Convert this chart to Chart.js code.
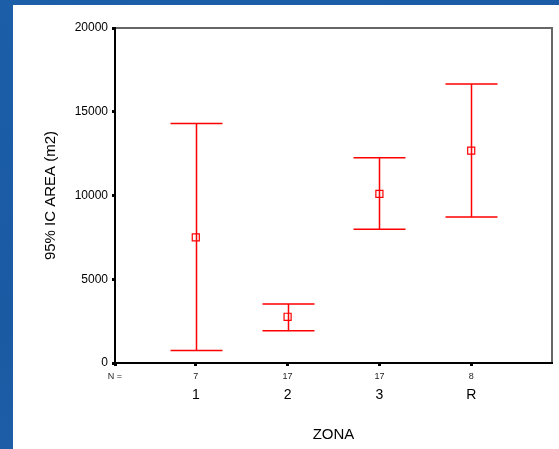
<!DOCTYPE html>
<html>
<head>
<meta charset="utf-8">
<script src="https://cdn.jsdelivr.net/npm/chart.js@4.4.1/dist/chart.umd.min.js"></script>
<style>
  html, body { margin: 0; padding: 0; }
  body {
    width: 559px; height: 449px; overflow: hidden; position: relative;
    background: linear-gradient(160deg, #1d5ea9 0%, #1a5aa3 50%, #2263ad 100%);
  }
  #panel { position: absolute; left: 13px; top: 5px; width: 546px; height: 444px; background: #fff; }
  canvas { display: block; }
</style>
</head>
<body>
<div id="panel"><canvas id="chart" width="546" height="444"></canvas></div>
<script>
// data (95% CI of area by zone)
const zones = ['1', '2', '3', 'R'];
const counts = [7, 17, 17, 8];
const means = [7500, 2760, 10100, 12680];
const lower = [740, 1930, 7980, 8720];
const upper = [14300, 3520, 12260, 16660];
const yTicks = [0, 5000, 10000, 15000, 20000];

const xMin = 0.12, xMax = 4.88;
const red = '#ff0000';
const font = "Arial, 'Liberation Sans', sans-serif";

const errorBars = {
    id: 'errorBars',
    beforeDraw(chart) {
        const a = chart.chartArea, ctx = chart.ctx;
        ctx.save();
        ctx.strokeStyle = '#666';
        ctx.lineWidth = 2;
        ctx.beginPath();
        ctx.moveTo(a.left, a.top);
        ctx.lineTo(a.right, a.top);
        ctx.lineTo(a.right, a.bottom);
        ctx.stroke();
        ctx.restore();
    },
    afterDatasetsDraw(chart) {
        const ctx = chart.ctx;
        const xs = chart.scales.x, ys = chart.scales.y;
        ctx.save();
        ctx.strokeStyle = red;
        ctx.lineWidth = 1.5;
        zones.forEach((z, i) => {
            const px = Math.round(xs.getPixelForValue(i + 1)) + 0.5;
            const lo = ys.getPixelForValue(lower[i]);
            const hi = ys.getPixelForValue(upper[i]);
            ctx.beginPath();
            ctx.moveTo(px, lo);
            ctx.lineTo(px, hi);
            ctx.moveTo(px - 26, lo);
            ctx.lineTo(px + 26, lo);
            ctx.moveTo(px - 26, hi);
            ctx.lineTo(px + 26, hi);
            ctx.stroke();
        });
        ctx.restore();
    }
};

new Chart(document.getElementById('chart'), {
    type: 'scatter',
    data: {
        datasets: [{
            data: means.map((m, i) => ({x: i + 1, y: m})),
            pointStyle: 'rect',
            radius: 5,
            hoverRadius: 5,
            borderColor: red,
            backgroundColor: 'rgba(0,0,0,0)',
            borderWidth: 1.2
        }]
    },
    options: {
        responsive: false,
        animation: false,
        devicePixelRatio: 1,
        layout: {padding: {top: 23, right: 7, left: 0, bottom: 0}},
        plugins: {legend: {display: false}, tooltip: {enabled: false}},
        scales: {
            y: {
                min: 0, max: 20000,
                afterFit(s) { s.width = 102; },
                afterBuildTicks(s) { s.ticks = yTicks.map(v => ({value: v})); },
                border: {color: '#000', width: 2},
                grid: {drawOnChartArea: false, tickLength: 3, tickWidth: 3, tickColor: '#000'},
                ticks: {
                    color: '#000', font: {family: font, size: 12}, padding: 4,
                    callback: v => String(v)
                },
                title: {
                    display: true, text: '95% IC AREA (m2)', color: '#000',
                    font: {family: font, size: 15}, padding: {top: 29, bottom: 0}
                }
            },
            x: {
                type: 'linear', position: 'bottom', weight: 0,
                min: xMin, max: xMax,
                afterFit(s) { s.height = 20; },
                afterBuildTicks(s) {
                    s.ticks = [{value: xMin}].concat(zones.map((z, i) => ({value: i + 1})));
                },
                border: {color: '#000', width: 2},
                grid: {drawOnChartArea: false, tickLength: 3, tickWidth: 3, tickColor: '#000'},
                ticks: {
                    color: '#222', font: {family: font, size: 9}, padding: 5, maxRotation: 0,
                    callback: (v, i) => i === 0 ? 'N =' : String(counts[i - 1])
                }
            },
            x2: {
                type: 'linear', position: 'bottom', weight: 1,
                min: xMin, max: xMax,
                afterFit(s) { s.height = 66; },
                afterBuildTicks(s) { s.ticks = zones.map((z, i) => ({value: i + 1})); },
                border: {display: false},
                grid: {display: false},
                ticks: {
                    color: '#000', font: {family: font, size: 14}, padding: -4, maxRotation: 0,
                    callback: (v, i) => zones[i]
                },
                title: {
                    display: true, text: 'ZONA', color: '#000',
                    font: {family: font, size: 15}, padding: {top: 0, bottom: 5}
                }
            }
        }
    },
    plugins: [errorBars]
});
</script>
</body>
</html>
